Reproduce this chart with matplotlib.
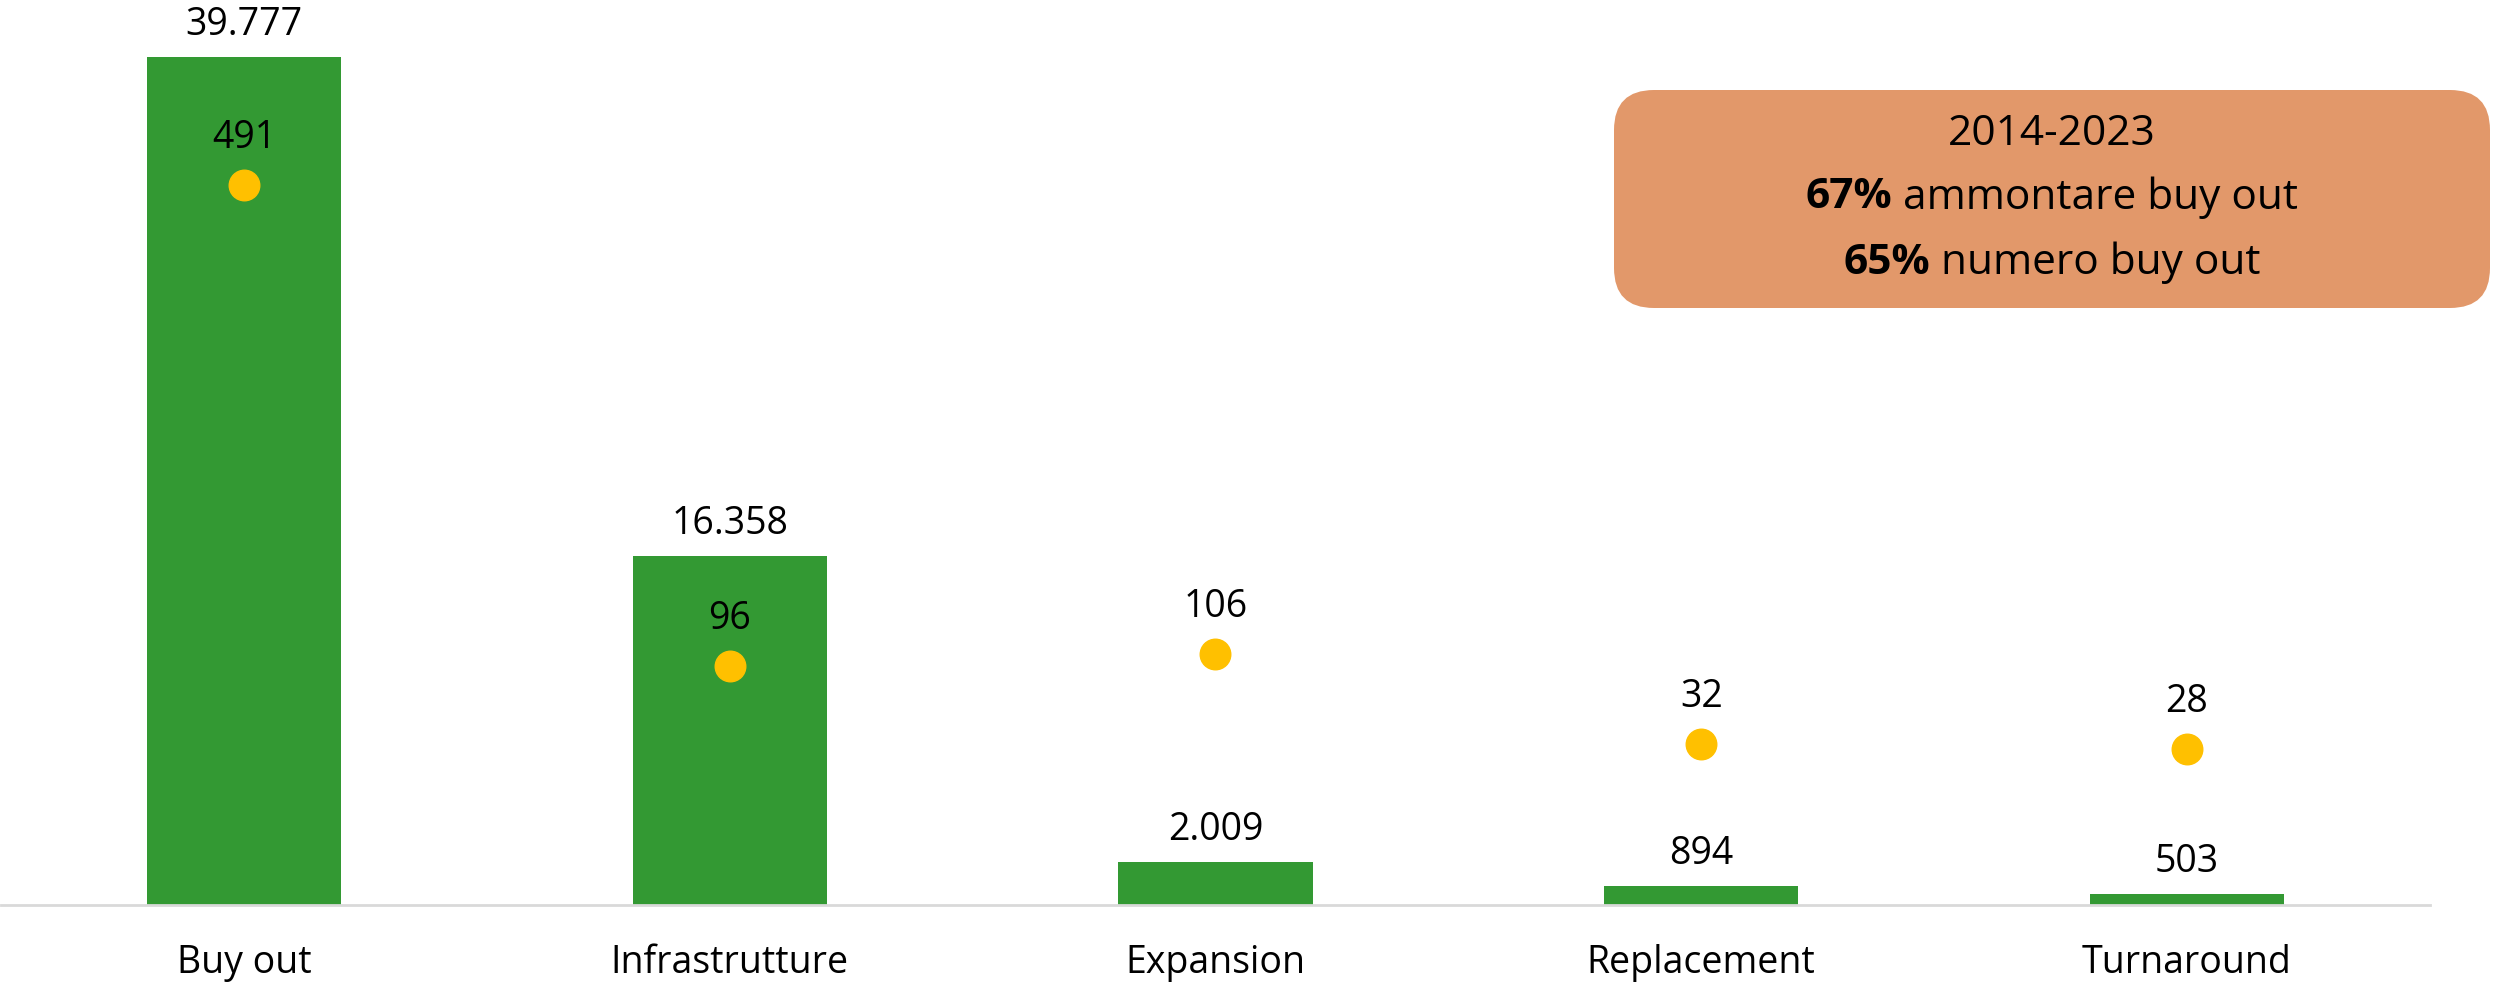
import matplotlib.pyplot as plt
from matplotlib.patches import FancyBboxPatch

plt.rcParams['font.family'] = ['Open Sans', 'DejaVu Sans']

categories = ["Buy out", "Infrastrutture", "Expansion", "Replacement", "Turnaround"]
amount = [39777, 16358, 2009, 894, 503]
amount_labels = ["39.777", "16.358", "2.009", "894", "503"]
deals = [491, 96, 106, 32, 28]

box_lines = ["2014-2023", ("67%", "ammontare buy out"), ("65%", "numero buy out")]

green = "#339933"
gold = "#FFC000"
box_color = "#E2986A"

fig = plt.figure(figsize=(24.93, 9.84), dpi=100)
ax = fig.add_axes([0.0004, 79 / 984, 0.9743, 853 / 984])

x = list(range(len(categories)))
ax.bar(x, amount, width=0.4, color=green, zorder=2)
ax.set_xlim(-0.5, len(categories) - 0.5)
ax.set_ylim(0, 40000)
ax.set_yticks([])
for s in ["top", "right", "left"]:
    ax.spines[s].set_visible(False)
ax.spines["bottom"].set_color("#D9D9D9")
ax.spines["bottom"].set_linewidth(2)
ax.set_xticks(x)
ax.set_xticklabels(categories, fontsize=27)
ax.tick_params(axis="x", length=0, pad=28)

for xi, v, lab in zip(x, amount, amount_labels):
    ax.annotate(lab, (xi, v), xytext=(0, 16), textcoords="offset points",
                ha="center", va="baseline", fontsize=27)

ax2 = ax.twinx()
ax2.set_ylim(-100, 600)
ax2.plot(x, deals, linestyle="none", marker="o", markersize=22,
         color=gold, zorder=3)
ax2.set_yticks([])
for s in ["top", "right", "left", "bottom"]:
    ax2.spines[s].set_visible(False)
for xi, v in zip(x, deals):
    ax2.annotate(str(v), (xi, v), xytext=(0, 26.5), textcoords="offset points",
                 ha="center", va="baseline", fontsize=27)

# summary box (pixel coordinates)
box = FancyBboxPatch((1614 + 40, 676 + 40), 876 - 80, 218 - 80,
                     boxstyle="round,pad=40,rounding_size=40",
                     transform=None, facecolor=box_color, edgecolor="none")
fig.patches.append(box)

cx = 2052
renderer = fig.canvas.get_renderer()
fig.text(cx / 2493, 850 / 984, box_lines[0], ha="center", va="center", fontsize=30.5)
for (bold, rest), yc in zip(box_lines[1:], [786, 721]):
    t1 = fig.text(0, yc / 984, bold, ha="left", va="center", fontsize=30.5, fontweight="bold")
    t2 = fig.text(0, yc / 984, rest, ha="left", va="center", fontsize=30.5)
    w1 = t1.get_window_extent(renderer).width
    w2 = t2.get_window_extent(renderer).width
    gap = 11
    left = cx - (w1 + gap + w2) / 2
    t1.set_x(left / 2493)
    t2.set_x((left + w1 + gap) / 2493)

fig.savefig("out.png", dpi=100)
